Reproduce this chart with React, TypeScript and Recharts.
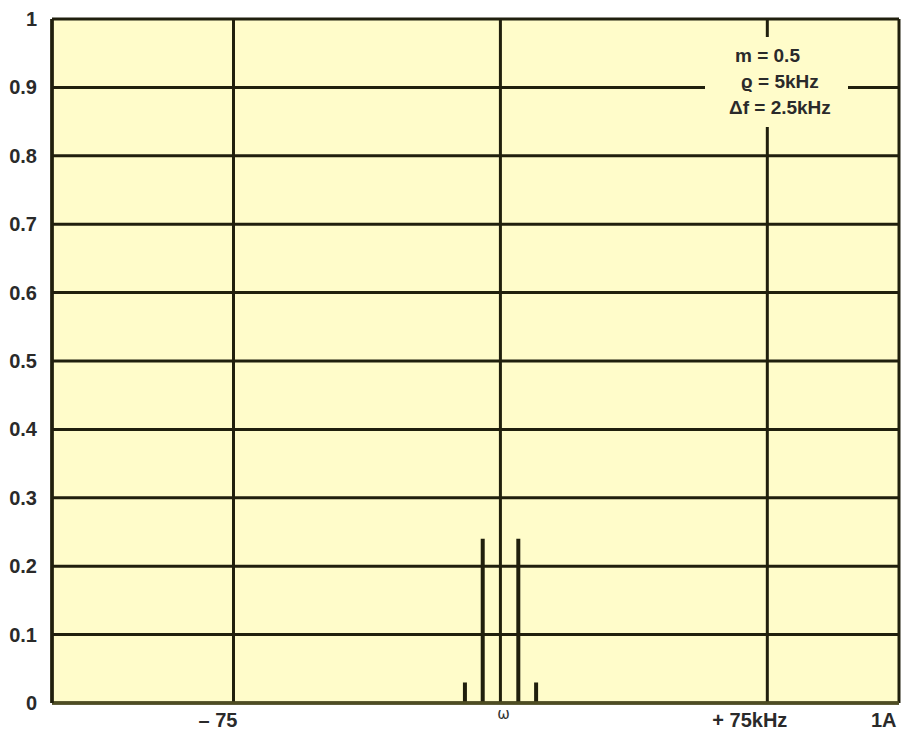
import { ComposedChart, Bar, XAxis, YAxis, CartesianGrid } from "recharts";

// side-band lines: offset from carrier (kHz) and relative amplitude
// (the carrier itself sits under the centre grid line)
const FREQS = [-10, -5, 5, 10];
const AMPS = [0.03, 0.24, 0.24, 0.03];

const X_TICKS = [-75, 0, 75, 112];
const X_LABELS = ["– 75", "ω", "+ 75kHz", "1A"];
const Y_TICKS = [0, 0.1, 0.2, 0.3, 0.4, 0.5, 0.6, 0.7, 0.8, 0.9, 1];
const NOTE_LINES = ["m = 0.5", "ϱ = 5kHz", "Δf = 2.5kHz"];

const data = FREQS.map((f, i) => ({ f, amp: AMPS[i] }));

const INK = "#201f0d";
const PAPER = "#fffcca";
const FONT = "'Liberation Sans', Arial, sans-serif";

function YTick(props: { x?: number; y?: number; payload?: { value: number } }) {
  const { y = 0, payload } = props;
  const v = payload ? payload.value : 0;
  const label = v === 0 || v === 1 ? String(v) : v.toFixed(1);
  return (
    <text x={37} y={y} dy="0.35em" textAnchor="end" fontFamily={FONT} fontWeight="bold" fontSize={20} fill="#2a2a2a">
      {label}
    </text>
  );
}

function XTick(props: { x?: number; y?: number; payload?: { value: number } }) {
  const { x = 0, payload } = props;
  const idx = X_TICKS.indexOf(payload ? payload.value : 0);
  const label = X_LABELS[idx];
  if (label === "ω") {
    return (
      <text x={x + 3} y={719} textAnchor="middle" fontFamily="'DejaVu Sans', sans-serif" fontSize={15} fill="#333">
        {label}
      </text>
    );
  }
  // label offsets relative to the grid line, as printed in the original
  const dx = label === "1A" ? -28 : label === "+ 75kHz" ? -55 : -35;
  return (
    <text x={x + dx} y={727} textAnchor="start" fontFamily={FONT} fontWeight="bold" fontSize={20} fill="#2a2a2a">
      {label}
    </text>
  );
}

export default function App() {
  return (
    <div style={{ position: "absolute", left: 0, top: 0, width: 905, height: 730, background: "#fff" }}>
      <ComposedChart width={905} height={730} data={data} margin={{ top: 19, right: 6, bottom: 0, left: 0 }}>
        <CartesianGrid stroke={INK} strokeWidth={3} fill={PAPER} fillOpacity={1} />
        <XAxis
          dataKey="f"
          type="number"
          domain={[-126, 112]}
          ticks={X_TICKS}
          height={27}
          tickLine={false}
          axisLine={{ stroke: "#4e4d22", strokeWidth: 3.5 }}
          tick={<XTick />}
          interval={0}
        />
        <YAxis
          type="number"
          domain={[0, 1]}
          ticks={Y_TICKS}
          width={52}
          tickLine={false}
          axisLine={{ stroke: INK, strokeWidth: 3.5 }}
          tick={<YTick />}
          interval={0}
        />
        <Bar dataKey="amp" fill={INK} barSize={4} isAnimationActive={false} />
      </ComposedChart>
      {/* parameter note, covering the grid lines behind it */}
      <div
        style={{
          position: "absolute",
          left: 705,
          top: 37,
          width: 143,
          height: 90,
          background: PAPER,
          fontFamily: FONT,
          fontWeight: "bold",
          fontSize: 19,
          color: "#2a2a2a",
          lineHeight: "26px",
          paddingTop: 6,
          boxSizing: "border-box",
          whiteSpace: "pre",
        }}
      >
        <div style={{ paddingLeft: 30 }}>{NOTE_LINES[0]}</div>
        <div style={{ paddingLeft: 36 }}>{NOTE_LINES[1]}</div>
        <div style={{ paddingLeft: 24 }}>{NOTE_LINES[2]}</div>
      </div>
    </div>
  );
}
